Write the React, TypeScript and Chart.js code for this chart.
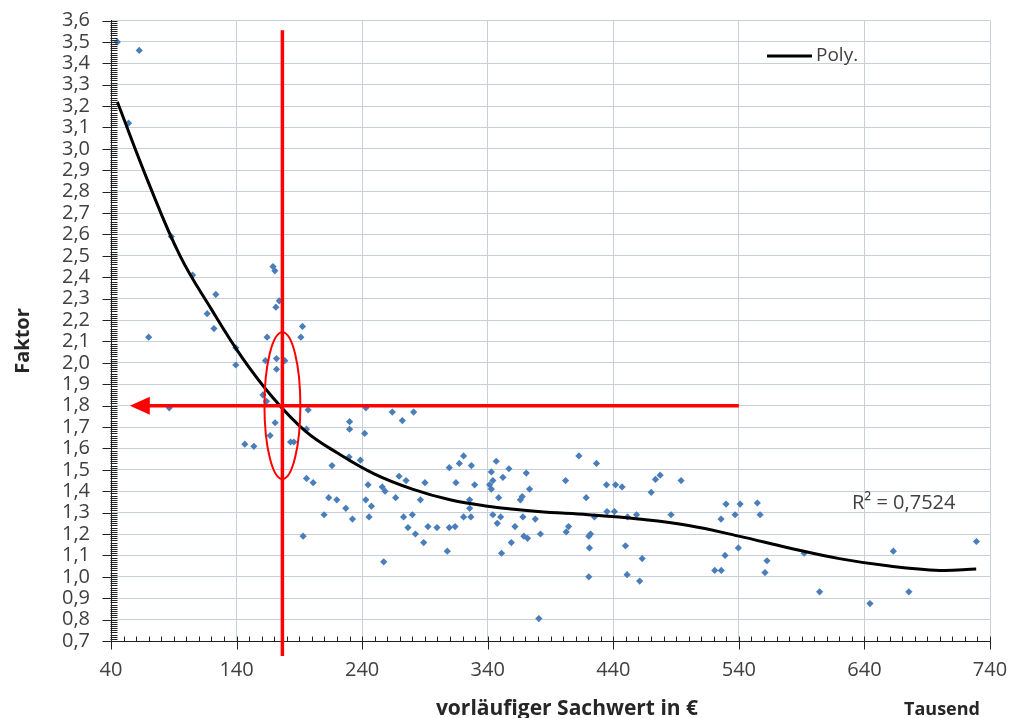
import React, { useEffect, useRef } from "react";
import { Chart, registerables } from "chart.js";

Chart.register(...registerables);

// Scatter data: vorläufiger Sachwert (Tausend €) and Faktor
const sachwert = [
  45, 62.5, 54, 88, 105, 123.5, 116.6, 122, 70, 139.4, 139.4, 86.4, 146.6, 153.8,
  169, 170.5, 174, 171.3, 164.3, 192.5, 191.2, 163, 171.8, 178.4, 171.8, 161, 163.8,
  197, 170.7, 166.7, 183, 185.6, 195.7, 195.7, 201, 193, 230, 230, 243, 242, 264, 272,
  281, 216, 229.6, 238.6, 213.4, 219.8, 209.7, 227, 232.3, 244.7, 242.9, 247.4, 245.5,
  257.2, 256, 258.2, 266.7, 269.4, 275, 273, 276.5, 280, 282.4, 290, 286.4, 289, 292.4,
  299.6, 307.8, 309.4, 309.4, 314, 317.4, 320.8, 327, 314.7, 329.6, 325.6, 325.6, 320.8,
  326.6, 342.9, 346.8, 344.1, 341.5, 342.9, 348.7, 352.1, 356.9, 344.1, 350.3, 347.6,
  351, 358.8, 361.7, 368, 370.7, 373.3, 367.5, 366, 368.8, 371.7, 377.9, 382, 380.7,
  412.6, 426.6, 402, 418.4, 434.6, 441.8, 447, 425, 435, 440.9, 402.5, 404.4, 420.5,
  421.9, 421, 420.5, 451.3, 458.5, 449.7, 463, 451, 461, 470.2, 473.6, 477.3, 486, 494,
  520.8, 526, 525.8, 529.8, 529, 537, 541, 539.6, 554.7, 556.9, 562.4, 560.8, 592,
  604.3, 644.4, 663, 675.4, 729.2,
];
const faktor = [
  3.5, 3.46, 3.12, 2.59, 2.41, 2.32, 2.23, 2.16, 2.12, 2.07, 1.99, 1.79, 1.62, 1.61,
  2.45, 2.43, 2.29, 2.26, 2.12, 2.17, 2.12, 2.01, 2.02, 2.01, 1.97, 1.85, 1.82,
  1.78, 1.72, 1.66, 1.63, 1.63, 1.69, 1.46, 1.44, 1.19, 1.725, 1.69, 1.79, 1.67, 1.77, 1.73,
  1.77, 1.52, 1.56, 1.545, 1.37, 1.36, 1.29, 1.32, 1.27, 1.43, 1.36, 1.33, 1.28,
  1.07, 1.42, 1.4, 1.37, 1.47, 1.45, 1.28, 1.23, 1.29, 1.2, 1.44, 1.36, 1.16, 1.235,
  1.23, 1.12, 1.51, 1.23, 1.235, 1.53, 1.565, 1.52, 1.44, 1.43, 1.36, 1.32, 1.28,
  1.28, 1.49, 1.54, 1.45, 1.43, 1.41, 1.37, 1.465, 1.505, 1.29, 1.28, 1.25,
  1.11, 1.16, 1.235, 1.28, 1.485, 1.41, 1.375, 1.36, 1.19, 1.18, 1.27, 1.2, 0.805,
  1.565, 1.53, 1.45, 1.37, 1.43, 1.43, 1.42, 1.28, 1.305, 1.305, 1.21, 1.235, 1.19,
  1.2, 1.135, 1.0, 1.28, 1.29, 1.145, 1.085, 1.01, 0.98, 1.395, 1.455, 1.475, 1.29, 1.45,
  1.03, 1.03, 1.27, 1.34, 1.1, 1.29, 1.34, 1.135, 1.345, 1.29, 1.075, 1.02, 1.11,
  0.93, 0.875, 1.12, 0.93, 1.165,
];

// Polynomial trend line
const polyX = [45, 70, 95, 120, 145, 170, 195, 220, 250, 280, 310, 340, 380, 420, 460, 500, 540, 580, 620, 660, 700, 729];
const polyY = [3.22, 2.84, 2.5, 2.25, 2.02, 1.83, 1.68, 1.58, 1.48, 1.41, 1.36, 1.33, 1.305, 1.29, 1.27, 1.24, 1.19, 1.135, 1.085, 1.05, 1.03, 1.037];

const xMin = 40;
const xMax = 740;
const xStep = 100;
const yMin = 0.7;
const yMax = 3.6;
const yStep = 0.1;

const legendLabel = "Poly.";
const r2Label = "R² = 0,7524";
const yTitle = "Faktor";
const xTitle = "vorläufiger Sachwert in €";
const xUnit = "Tausend";

// Red reading annotation (data units)
const markX = 176.5;
const markY = 1.8;
const markTopY = 3.555;
const arrowStartX = 540;
const arrowTipX = 55;
const ellipseRx = 14.3;
const ellipseRy = 0.343;

const FONT = "'Open Sans', 'DejaVu Sans', sans-serif";

const decorPlugin = {
  id: "decor",
  afterDatasetsDraw(chart: any) {
    const { ctx, chartArea, scales } = chart;
    const xs = scales.x;
    const ys = scales.y;
    ctx.save();
    // axis tick marks
    ctx.strokeStyle = "#222";
    ctx.lineWidth = 1;
    const ax = Math.round(chartArea.left) + 0.5;
    const ay = Math.round(chartArea.bottom) + 0.5;
    for (let i = 0; i <= Math.round((yMax - yMin) / 0.01); i++) {
      const v = yMin + i * 0.01;
      const py = Math.round(ys.getPixelForValue(v)) + 0.5;
      const major = i % 10 === 0;
      ctx.beginPath();
      if (major) {
        ctx.moveTo(ax - 9, py);
        ctx.lineTo(ax + 6, py);
      } else {
        ctx.moveTo(ax - 1, py);
        ctx.lineTo(ax + 6, py);
      }
      ctx.stroke();
    }
    for (let i = 0; i <= Math.round((xMax - xMin) / 10); i++) {
      const v = xMin + i * 10;
      const px = Math.round(xs.getPixelForValue(v)) + 0.5;
      const major = i % 10 === 0;
      ctx.beginPath();
      if (major) {
        ctx.moveTo(px, ay + 8);
        ctx.lineTo(px, ay - 5);
      } else {
        ctx.moveTo(px, ay);
        ctx.lineTo(px, ay - 5);
      }
      ctx.stroke();
    }

    // red annotation
    const mx = xs.getPixelForValue(markX);
    const my = ys.getPixelForValue(markY);
    ctx.strokeStyle = "#ff0000";
    ctx.fillStyle = "#ff0000";
    ctx.lineWidth = 3.5;
    ctx.beginPath();
    ctx.moveTo(mx, ys.getPixelForValue(markTopY));
    ctx.lineTo(mx, chartArea.bottom + 15);
    ctx.stroke();
    const tip = xs.getPixelForValue(arrowTipX);
    ctx.beginPath();
    ctx.moveTo(xs.getPixelForValue(arrowStartX), my);
    ctx.lineTo(tip + 16, my);
    ctx.stroke();
    ctx.beginPath();
    ctx.moveTo(tip, my);
    ctx.lineTo(tip + 20, my - 9);
    ctx.lineTo(tip + 20, my + 9);
    ctx.closePath();
    ctx.fill();
    const rx = xs.getPixelForValue(markX + ellipseRx) - mx;
    const ry = my - ys.getPixelForValue(markY + ellipseRy);
    ctx.lineWidth = 2;
    ctx.beginPath();
    ctx.ellipse(mx, my, rx, ry, 0, 0, Math.PI * 2);
    ctx.stroke();

    // legend
    ctx.strokeStyle = "#000";
    ctx.lineWidth = 3;
    ctx.beginPath();
    ctx.moveTo(767, 56);
    ctx.lineTo(812, 56);
    ctx.stroke();
    ctx.fillStyle = "#404040";
    ctx.font = `19px ${FONT}`;
    ctx.textAlign = "left";
    ctx.textBaseline = "middle";
    ctx.fillText(legendLabel, 816, 56);

    // R²
    ctx.font = `20px ${FONT}`;
    ctx.fillText(r2Label, 852, 503);

    // titles
    ctx.fillStyle = "#262626";
    ctx.font = `bold 21px ${FONT}`;
    ctx.textAlign = "center";
    ctx.textBaseline = "alphabetic";
    ctx.fillText(xTitle, 567, 715);
    ctx.font = `bold 18px ${FONT}`;
    ctx.fillText(xUnit, 942, 715);
    ctx.save();
    ctx.translate(29, 341);
    ctx.rotate(-Math.PI / 2);
    ctx.font = `bold 20px ${FONT}`;
    ctx.fillText(yTitle, 0, 0);
    ctx.restore();
    ctx.restore();
  },
};

export default function App() {
  const ref = useRef<HTMLCanvasElement>(null);
  useEffect(() => {
    if (!ref.current) return;
    const points = sachwert.map((x, i) => ({ x, y: faktor[i] }));
    const curve = polyX.map((x, i) => ({ x, y: polyY[i] }));
    const chart = new Chart(ref.current, {
      type: "scatter",
      data: {
        datasets: [
          {
            type: "line",
            label: legendLabel,
            data: curve,
            borderColor: "#000",
            borderWidth: 3,
            pointRadius: 0,
            tension: 0.4,
            fill: false,
            order: 0,
          } as any,
          {
            label: "Faktor",
            data: points,
            pointStyle: "rectRot",
            pointRadius: 3.6,
            backgroundColor: "#4a7ebb",
            borderColor: "#4a7ebb",
            borderWidth: 0,
            order: 1,
          },
        ],
      },
      options: {
        animation: false,
        responsive: false,
        devicePixelRatio: 1,
        layout: { padding: { left: 0, right: 20, top: 20.5, bottom: 0 } },
        plugins: { legend: { display: false }, tooltip: { enabled: false }, title: { display: false } },
        scales: {
          x: {
            type: "linear",
            min: xMin,
            max: xMax,
            afterFit: (s: any) => {
              s.height = 77;
              s.paddingLeft = 0;
              s.paddingRight = 0;
              s.paddingTop = 0;
              s.paddingBottom = 0;
            },
            ticks: {
              stepSize: xStep,
              autoSkip: false,
              maxRotation: 0,
              padding: 17,
              color: "#404040",
              font: { family: FONT, size: 20 },
              callback: (v: any) => String(v),
            },
            grid: { color: "#c8cfd9", lineWidth: 1, drawTicks: false },
            border: { color: "#222", width: 1 },
          },
          y: {
            type: "linear",
            min: yMin,
            max: yMax,
            afterFit: (s: any) => {
              s.width = 111;
              s.paddingLeft = 0;
              s.paddingRight = 0;
              s.paddingTop = 0;
              s.paddingBottom = 0;
            },
            ticks: {
              stepSize: yStep,
              autoSkip: false,
              padding: 21,
              color: "#404040",
              font: { family: FONT, size: 20 },
              callback: (v: any) => Number(v).toFixed(1).replace(".", ","),
            },
            grid: { color: "#c8cfd9", lineWidth: 1, drawTicks: false },
            border: { color: "#222", width: 1 },
          },
        },
      },
      plugins: [decorPlugin],
    });
    return () => chart.destroy();
  }, []);
  return (
    <div style={{ position: "absolute", left: 0, top: 0, width: 1010, height: 718, background: "#fff" }}>
      <canvas ref={ref} width={1010} height={718} style={{ width: 1010, height: 718 }} />
    </div>
  );
}
